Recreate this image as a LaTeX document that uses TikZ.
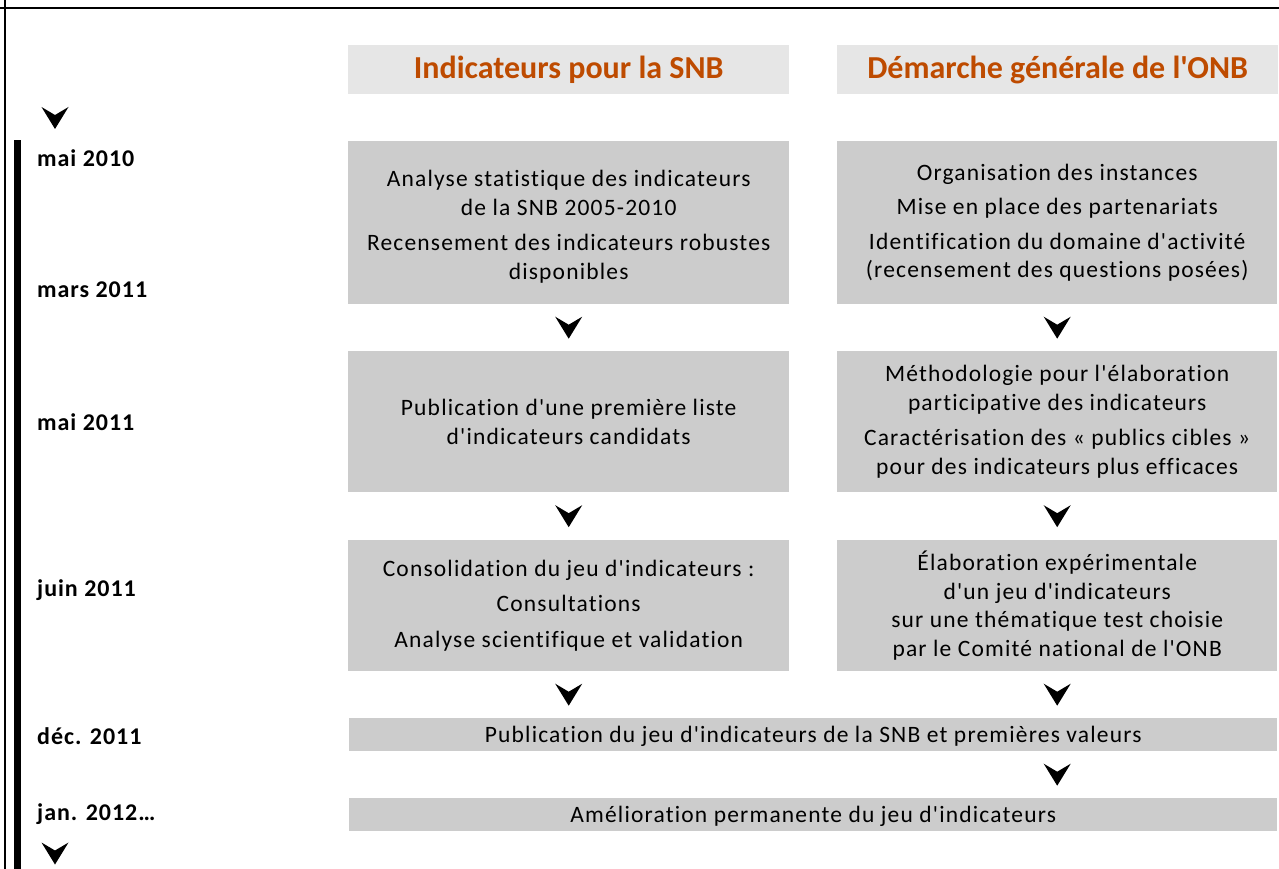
\documentclass[tikz,border=0pt]{standalone}
\usepackage{fontspec}
\setmainfont{Carlito}[Ligatures={TeXOff,NoCommon}]
\newfontfamily\bodyfont{Carlito}[Ligatures={TeXOff,NoCommon},LetterSpace=5]
\newfontfamily\datefont{Carlito}[Ligatures={TeXOff,NoCommon},LetterSpace=4]
\usetikzlibrary{calc}
\definecolor{boxgray}{RGB}{204,204,204}
\definecolor{headgray}{RGB}{230,230,230}
\definecolor{headtxt}{RGB}{190,75,0}
\tikzset{
  box/.style={fill=boxgray, draw=none, inner sep=0pt, align=center, anchor=north west,
    font=\bodyfont\fontsize{23.5}{28.5}\selectfont},
  widebox/.style={box, minimum width=928pt, minimum height=33pt, text depth=0pt},
  head/.style={fill=headgray, draw=none, inner sep=0pt, anchor=north west,
    minimum height=49pt},
  headtext/.style={text=headtxt, inner sep=0pt, font=\fontsize{32}{36}\selectfont\bfseries},
  datelbl/.style={anchor=west, inner sep=0pt, font=\datefont\fontsize{24}{26}\selectfont\bfseries},
  chevron/.pic={\fill (-13.5,-11) -- (0,-3) -- (13.5,-11) -- (0,11) -- cycle;}
}
\begin{document}
\begin{tikzpicture}[x=1pt,y=-1pt]
\useasboundingbox (0,0) rectangle (1279,869);
% frame
\draw[line width=1.3pt] (0,8) -- (1279,8);
\draw[line width=1.3pt] (5,0) -- (5,869);
\fill (14,140) rectangle (21,869);
% headers
\node[head, minimum width=441pt] (h1) at (348,45) {};
\node[headtext] (t1) at (h1.center) {Indicateurs pour la SNB};
\node[head, minimum width=441pt] (h2) at (837,45) {};
\node[headtext] (t2) at (h2.center) {Démarche générale de l'ONB};
% boxes
\node[box, minimum width=441pt, minimum height=163pt] (l1) at (348,141) {};
\node[box, fill=none, anchor=center] (l1t) at ($(l1.center)+(0,4)$)
  {Analyse statistique des indicateurs\\de la SNB 2005-2010\\[7pt]Recensement des indicateurs robustes\\disponibles};
\node[box, minimum width=440pt, minimum height=163pt] (r1) at (837,141)
  {Organisation des instances\\[6pt]Mise en place des partenariats\\[6pt]Identification du domaine d'activité\\(recensement des questions posées)};
\node[box, minimum width=441pt, minimum height=141pt] (l2) at (348,351)
  {Publication d'une première liste\\d'indicateurs candidats};
\node[box, minimum width=440pt, minimum height=141pt] (r2) at (837,351)
  {Méthodologie pour l'élaboration\\participative des indicateurs\\[7pt]Caractérisation des « publics cibles »\\pour des indicateurs plus efficaces};
\node[box, minimum width=441pt, minimum height=131pt] (l3) at (348,540)
  {Consolidation du jeu d'indicateurs :\\[7pt]Consultations\\[7pt]Analyse scientifique et validation};
\node[box, minimum width=440pt, minimum height=131pt] (r3) at (837,540)
  {Élaboration expérimentale\\d'un jeu d'indicateurs\\sur une thématique test choisie\\par le Comité national de l'ONB};
\node[widebox] (w1) at (349,718)
  {Publication du jeu d'indicateurs de la SNB et premières valeurs};
\node[widebox] (w2) at (349,798)
  {Amélioration permanente du jeu d'indicateurs};
% dates
\node[datelbl] (d1) at (37,158) {mai 2010};
\node[datelbl] (d2) at (37,290) {mars 2011};
\node[datelbl] (d3) at (37,422) {mai 2011};
\node[datelbl] (d4) at (37,590) {juin 2011};
\node[datelbl] (d5) at (37,736) {déc. 2011};
\node[datelbl] (d6) at (37,814) {jan. 2012…};
% chevrons
\coordinate (ctop) at (55,118);
\coordinate (cbot) at (55,853.5);
\pic at (ctop) {chevron};
\pic at (cbot) {chevron};
\pic at ($(l1.south)!0.5!(l2.north)$) {chevron};
\pic at ($(r1.south)!0.5!(r2.north)$) {chevron};
\pic at ($(l2.south)!0.5!(l3.north)$) {chevron};
\pic at ($(r2.south)!0.5!(r3.north)$) {chevron};
\pic at ($(l3.south)!0.5!(l3.south|-w1.north)$) {chevron};
\pic at ($(r3.south)!0.5!(r3.south|-w1.north)$) {chevron};
\pic at ($(r3.south|-w1.south)!0.5!(r3.south|-w2.north)$) {chevron};
\end{tikzpicture}
\end{document}
